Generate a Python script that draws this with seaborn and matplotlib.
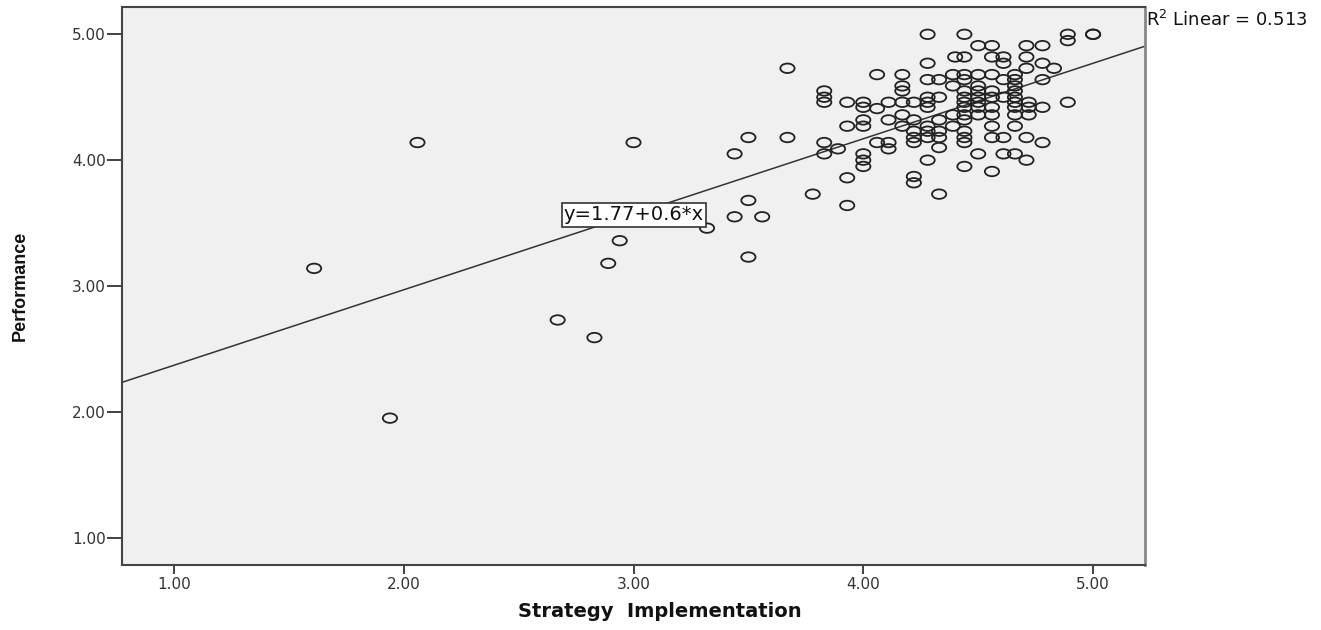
import numpy as np
import pandas as pd
import seaborn as sns
import matplotlib
matplotlib.use("Agg")
import matplotlib.pyplot as plt
from matplotlib.path import Path
from matplotlib.transforms import Affine2D

# ---------------- data ----------------
strategy = [
    1.61, 1.94, 2.06, 2.67, 2.83, 2.89, 2.94, 3.00, 3.32, 3.44, 3.56, 3.50, 3.50,
    3.44, 3.50, 3.67, 3.67, 3.78, 3.83, 3.83, 3.83, 3.83, 3.83, 3.89, 3.93, 3.93,
    3.93, 3.93, 4.00, 4.00, 4.00, 4.00, 4.00, 4.00, 4.00, 4.06, 4.06, 4.06, 4.11,
    4.11, 4.11, 4.11,
    4.28, 4.44, 4.89, 5.00, 5.00, 4.89,
    4.50, 4.56, 4.71, 4.78,
    4.40, 4.44, 4.56, 4.61, 4.71,
    4.28, 4.61, 4.78,
    4.71, 4.83,
    4.17, 4.39, 4.44, 4.50, 4.56, 4.66,
    4.28, 4.33, 4.44, 4.61, 4.66, 4.78,
    4.17, 4.39, 4.50, 4.66,
    4.17, 4.44, 4.50, 4.56, 4.66,
    4.28, 4.33, 4.44, 4.50, 4.56, 4.61, 4.66,
    4.17, 4.22, 4.28, 4.44, 4.50, 4.66, 4.72, 4.89,
    4.28, 4.44, 4.50, 4.56, 4.66, 4.72, 4.78,
    4.17, 4.39, 4.44, 4.50, 4.56, 4.66, 4.72,
    4.22, 4.33, 4.44,
    4.17, 4.28, 4.39, 4.56, 4.66,
    4.22, 4.28, 4.33, 4.44,
    4.22, 4.28, 4.33, 4.44, 4.56, 4.61, 4.71,
    4.22, 4.44, 4.78,
    4.33,
    4.50, 4.61, 4.66,
    4.28, 4.71,
    4.44,
    4.56,
    4.22, 4.22,
    4.33,
]
performance = [
    3.14, 1.95, 4.14, 2.73, 2.59, 3.18, 3.36, 4.14, 3.46, 3.55, 3.55, 3.68, 3.23,
    4.05, 4.18, 4.18, 4.73, 3.73, 4.55, 4.50, 4.46, 4.14, 4.05, 4.09, 4.46, 4.27,
    3.86, 3.64, 4.46, 4.42, 4.32, 4.27, 4.05, 4.00, 3.95, 4.68, 4.41, 4.14, 4.46,
    4.32, 4.14, 4.09,
    5.00, 5.00, 5.00, 5.00, 5.00, 4.95,
    4.91, 4.91, 4.91, 4.91,
    4.82, 4.82, 4.82, 4.82, 4.82,
    4.77, 4.77, 4.77,
    4.73, 4.73,
    4.68, 4.68, 4.68, 4.68, 4.68, 4.68,
    4.64, 4.64, 4.64, 4.64, 4.64, 4.64,
    4.59, 4.59, 4.59, 4.59,
    4.55, 4.55, 4.55, 4.55, 4.55,
    4.50, 4.50, 4.50, 4.50, 4.50, 4.50, 4.50,
    4.46, 4.46, 4.46, 4.46, 4.46, 4.46, 4.46, 4.46,
    4.42, 4.42, 4.42, 4.42, 4.42, 4.42, 4.42,
    4.36, 4.36, 4.36, 4.36, 4.36, 4.36, 4.36,
    4.32, 4.32, 4.32,
    4.27, 4.27, 4.27, 4.27, 4.27,
    4.23, 4.23, 4.23, 4.23,
    4.18, 4.18, 4.18, 4.18, 4.18, 4.18, 4.18,
    4.14, 4.14, 4.14,
    4.10,
    4.05, 4.05, 4.05,
    4.00, 4.00,
    3.95,
    3.91,
    3.87, 3.82,
    3.73,
]
fit_intercept = 1.77
fit_slope = 0.6
equation_label = "y=1.77+0.6*x"
r2_label = "R$^2$ Linear = 0.513"
x_ticks = [1.0, 2.0, 3.0, 4.0, 5.0]
y_ticks = [1.0, 2.0, 3.0, 4.0, 5.0]

df = pd.DataFrame({"Strategy Implementation": strategy, "Performance": performance})

# ---------------- style ----------------
sns.set_theme(style="white")
plt.rcParams["font.family"] = ["DejaVu Sans"]

W, H = 1321, 630
fig = plt.figure(figsize=(W / 100, H / 100), dpi=100)
ax = fig.add_axes([122 / W, (H - 565) / H, (1145 - 122) / W, (565 - 7) / H])
ax.set_facecolor("#f0f0f0")

ellipse = Path.unit_circle().transformed(Affine2D().scale(1.5, 1.0))

sns.scatterplot(data=df, x="Strategy Implementation", y="Performance", ax=ax,
                marker=ellipse, s=105, facecolor="none", edgecolor="#222222",
                linewidth=1.3, zorder=3)

ax.axline((0, fit_intercept), slope=fit_slope, color="#333333", lw=1.1, zorder=2)

ax.set_xlim(0.774, 5.226)
ax.set_ylim(0.783, 5.217)
ax.set_xticks(x_ticks)
ax.set_yticks(y_ticks)
ax.set_xticklabels([f"{v:.2f}" for v in x_ticks], fontsize=11, color="#333333")
ax.set_yticklabels([f"{v:.2f}" for v in y_ticks], fontsize=11, color="#333333")
ax.tick_params(axis="x", direction="out", length=6.5, width=1.3, color="#333333",
               bottom=True, pad=2)
ax.tick_params(axis="y", direction="out", length=10.5, width=1.3, color="#333333",
               left=True, pad=1)

for side, sp in ax.spines.items():
    sp.set_color("#444444")
    sp.set_linewidth(1.5)
ax.spines["right"].set_color("#888888")
ax.spines["right"].set_linewidth(2.0)

ax.set_xlabel("Strategy  Implementation", fontsize=14, fontweight="bold",
              color="#111111")
ax.xaxis.set_label_coords((660 - 122) / (1145 - 122), -(602 - 565) / (565 - 7))
ax.set_ylabel("Performance", fontsize=13, fontweight="bold", color="#111111",
              family=["Liberation Sans Narrow", "Liberation Sans", "DejaVu Sans"])
ax.yaxis.set_label_coords(-(122 - 29) / (1145 - 122), 0.5)

ax.text(3.002, 3.565, equation_label, ha="center", va="center", fontsize=14,
        color="#111111", zorder=5,
        bbox=dict(boxstyle="square,pad=0.12", facecolor="white", edgecolor="#333333", lw=1.2))

fig.text(1146 / W, 1 - 20 / H, r2_label, ha="left", va="center", fontsize=13,
         color="#111111")

fig.savefig("out.png", dpi=100, facecolor="white")
